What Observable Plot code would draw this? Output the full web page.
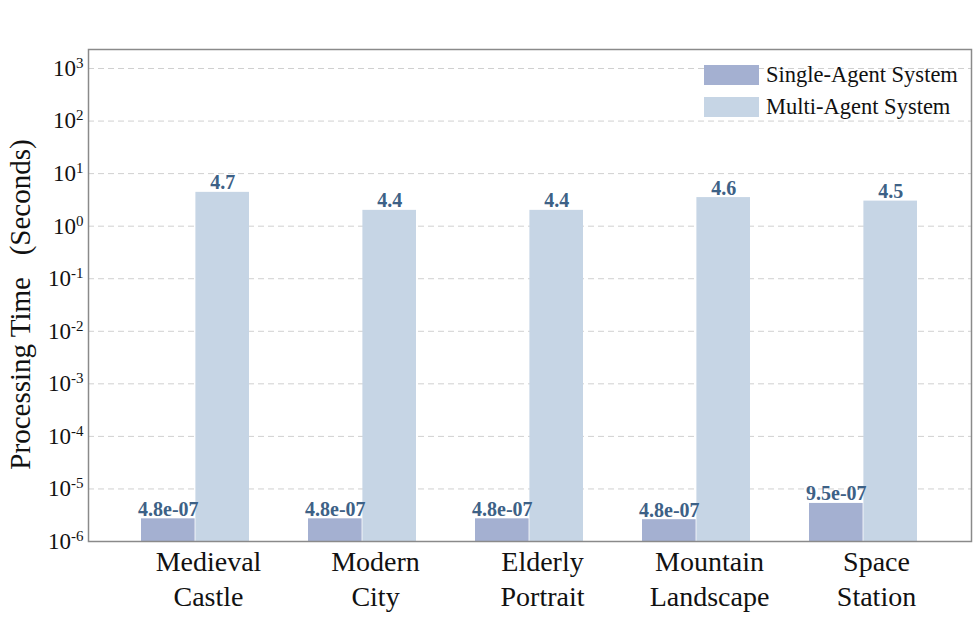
<!DOCTYPE html>
<html><head><meta charset="utf-8">
<script src="https://cdn.jsdelivr.net/npm/d3@7"></script>
<script src="https://cdn.jsdelivr.net/npm/@observablehq/plot@0.6"></script>
<style>
body{margin:0;background:#fff;}
#wrap{position:relative;width:977px;height:623px;}
#legend{position:absolute;left:704px;top:65px;font-family:"Liberation Serif","Times New Roman",serif;font-size:22.5px;color:#111;}
.item{display:flex;align-items:center;height:20px;margin-bottom:12px;white-space:nowrap;}
.sw{width:55px;height:20px;margin-right:7px;flex:none;}
</style></head><body><div id="wrap"></div>
<script>
const categories = ["Medieval Castle","Modern City","Elderly Portrait","Mountain Landscape","Space Station"];
const categoryLines = [["Medieval","Castle"],["Modern","City"],["Elderly","Portrait"],["Mountain","Landscape"],["Space","Station"]];
const series = ["Single-Agent System","Multi-Agent System"];
const singleValues = [2.7e-6, 2.7e-6, 2.7e-6, 2.6e-6, 5.3e-6];
const multiValues = [4.4, 2.0, 2.0, 3.5, 3.0];
const singleLabels = ["4.8e-07","4.8e-07","4.8e-07","4.8e-07","9.5e-07"];
const multiLabels = ["4.7","4.4","4.4","4.6","4.5"];
const yTickExponents = [-6,-5,-4,-3,-2,-1,0,1,2,3];
const yDomain = [1e-6, 2300];
const yTitle = "Processing Time\u00a0\u00a0\u00a0(Seconds)";
const colors = ["#a4b0d1", "#c6d5e5"];
const labelColor = "#3d6186";
const serif = "'Liberation Serif','Times New Roman',serif";

const data = categories.map((c, i) => ({category: c, single: singleValues[i], multi: multiValues[i], sl: singleLabels[i], ml: multiLabels[i]}));
const yTicks = yTickExponents.map(e => 10 ** e);
const gridTicks = yTicks.slice(1);

const W = 977, H = 623, ML = 88, MR = 6, MT = 49, MB = 82;
const PI = 0.352, PO = 0.306;
const step = (W - ML - MR) / (categories.length - PI + 2 * PO);
const half = step * (1 - PI) / 2;

const chart = Plot.plot({
  width: W, height: H,
  marginLeft: ML, marginRight: MR, marginTop: MT, marginBottom: MB,
  style: {fontFamily: serif, background: "#fff"},
  x: {type: "band", domain: categories, paddingInner: PI, paddingOuter: PO, axis: null},
  y: {type: "log", domain: yDomain, axis: null},
  marks: [
    Plot.gridY(gridTicks, {stroke: "#d0d0d0", strokeOpacity: 1, strokeDasharray: "6,4", strokeWidth: 1}),
    Plot.barY(data, {x: "category", y1: yDomain[0], y2: "single", fill: colors[0], insetRight: half}),
    Plot.barY(data, {x: "category", y1: yDomain[0], y2: "multi", fill: colors[1], insetLeft: half}),
    Plot.text(data, {x: "category", y: "single", text: "sl", dx: -half / 2, dy: -3, lineAnchor: "bottom", fontWeight: "bold", fontSize: 20, fill: labelColor}),
    Plot.text(data, {x: "category", y: "multi", text: "ml", dx: half / 2, dy: -3, lineAnchor: "bottom", fontWeight: "bold", fontSize: 20, fill: labelColor}),
    Plot.axisY(yTicks, {tickSize: 0, tickPadding: 5, fontSize: 23, fill: "#111", tickFormat: d => String(Math.round(Math.log10(d)))}),
    Plot.text([yTitle], {frameAnchor: "left", textAnchor: "middle", lineAnchor: "middle", dx: -68, dy: 9, rotate: -90, fontSize: 29, fill: "#111", text: d => d}),
    Plot.text(categories, {x: d => d, text: (d, i) => categoryLines[i].join("\n"), frameAnchor: "bottom", lineAnchor: "top", dy: 5, dx: 13, fontSize: 28, lineHeight: 1.25, fill: "#111"}),
    Plot.frame({stroke: "#8a8a8a", strokeWidth: 1.5})
  ]
});

// render exponents as superscripts
chart.querySelectorAll('g[aria-label="y-axis tick label"] text').forEach(t => {
  const exp = t.textContent;
  t.textContent = "10";
  const ts = document.createElementNS("http://www.w3.org/2000/svg", "tspan");
  ts.setAttribute("dy", "-8");
  ts.setAttribute("font-size", "15");
  ts.textContent = exp;
  t.appendChild(ts);
});

const wrap = document.getElementById("wrap");
wrap.appendChild(chart);
const legend = document.createElement("div");
legend.id = "legend";
series.forEach((s, i) => {
  const item = document.createElement("div");
  item.className = "item";
  const sw = document.createElement("span");
  sw.className = "sw";
  sw.style.background = colors[i];
  const lab = document.createElement("span");
  lab.textContent = s;
  item.appendChild(sw); item.appendChild(lab);
  legend.appendChild(item);
});
wrap.appendChild(legend);
</script></body></html>
